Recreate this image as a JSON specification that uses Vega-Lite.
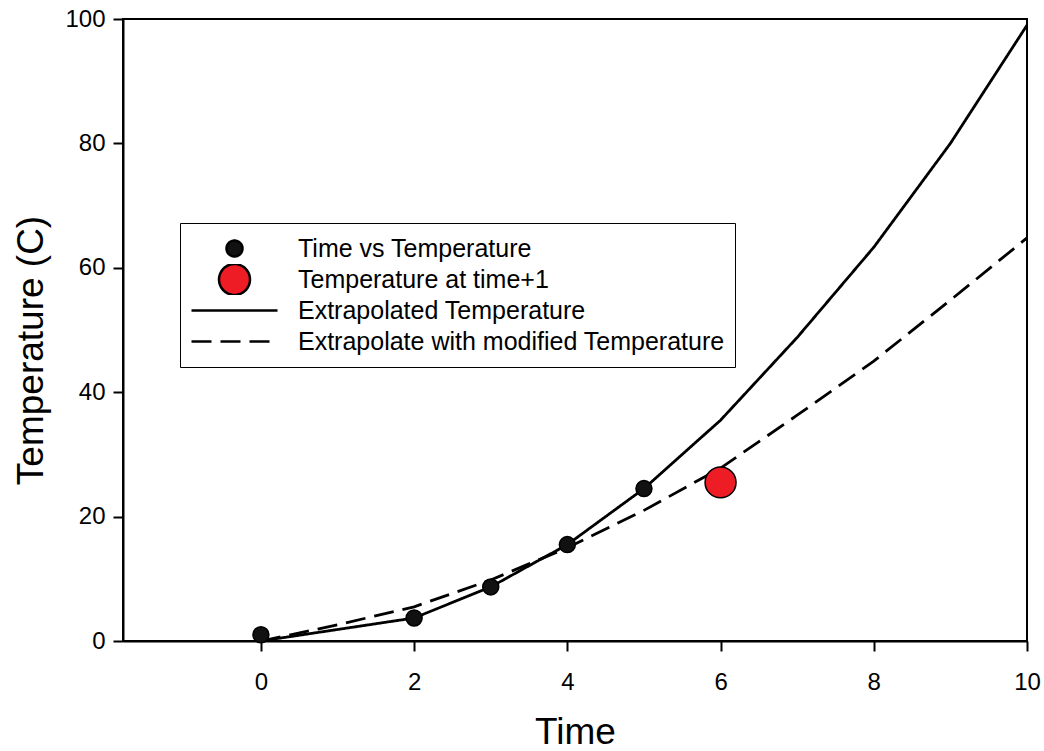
{
  "$schema": "https://vega.github.io/schema/vega-lite/v6.json",
  "width": 904,
  "height": 622,
  "autosize": {"type": "none"},
  "padding": {"left": 123, "top": 19, "right": 17, "bottom": 110},
  "background": "white",
  "config": {
    "font": "Liberation Sans",
    "view": {"stroke": "black", "strokeWidth": 2},
    "axis": {
      "domainColor": "black", "domainWidth": 2,
      "tickColor": "black", "tickWidth": 2, "tickSize": 10,
      "labelFont": "Liberation Sans", "labelFontSize": 24, "labelColor": "black", "labelFlush": false,
      "titleFont": "Liberation Sans", "titleFontSize": 37, "titleFontWeight": "normal", "titleColor": "black",
      "grid": false
    },
    "legend": {
      "orient": "none", "legendX": 57, "legendY": 204,
      "padding": 10, "strokeColor": "black", "fillColor": "white",
      "labelFont": "Liberation Sans", "labelFontSize": 25, "labelColor": "black",
      "labelOffset": 19, "labelLimit": 1000,
      "clipHeight": 31, "rowPadding": 0,
      "symbolSize": 7396, "symbolStrokeWidth": 2.5, "symbolStrokeColor": "black", "symbolOpacity": 1
    }
  },
  "data": {
    "values": [
      {"series": "Time vs Temperature", "time": 0, "temp": 1.0},
      {"series": "Time vs Temperature", "time": 2, "temp": 3.7},
      {"series": "Time vs Temperature", "time": 3, "temp": 8.7},
      {"series": "Time vs Temperature", "time": 4, "temp": 15.5},
      {"series": "Time vs Temperature", "time": 5, "temp": 24.5},
      {"series": "Temperature at time+1", "time": 6, "temp": 25.5},
      {"series": "Extrapolated Temperature", "time": 0, "temp": 0},
      {"series": "Extrapolated Temperature", "time": 2, "temp": 3.7},
      {"series": "Extrapolated Temperature", "time": 3, "temp": 8.7},
      {"series": "Extrapolated Temperature", "time": 4, "temp": 15.5},
      {"series": "Extrapolated Temperature", "time": 5, "temp": 24.5},
      {"series": "Extrapolated Temperature", "time": 6, "temp": 35.5},
      {"series": "Extrapolated Temperature", "time": 7, "temp": 48.8},
      {"series": "Extrapolated Temperature", "time": 8, "temp": 63.3},
      {"series": "Extrapolated Temperature", "time": 9, "temp": 80.0},
      {"series": "Extrapolated Temperature", "time": 10, "temp": 99.0},
      {"series": "Extrapolate with modified Temperature", "time": 0, "temp": 0},
      {"series": "Extrapolate with modified Temperature", "time": 1, "temp": 2.6},
      {"series": "Extrapolate with modified Temperature", "time": 2, "temp": 5.5},
      {"series": "Extrapolate with modified Temperature", "time": 3, "temp": 9.8},
      {"series": "Extrapolate with modified Temperature", "time": 4, "temp": 15.0},
      {"series": "Extrapolate with modified Temperature", "time": 5, "temp": 21.0},
      {"series": "Extrapolate with modified Temperature", "time": 6, "temp": 27.8},
      {"series": "Extrapolate with modified Temperature", "time": 7, "temp": 36.3},
      {"series": "Extrapolate with modified Temperature", "time": 8, "temp": 45.0},
      {"series": "Extrapolate with modified Temperature", "time": 9, "temp": 54.8},
      {"series": "Extrapolate with modified Temperature", "time": 10, "temp": 64.8}
    ]
  },
  "layer": [
    {
      "transform": [{"filter": {"field": "series", "oneOf": ["Extrapolated Temperature", "Extrapolate with modified Temperature"]}}],
      "mark": {"type": "line", "strokeWidth": 2.8},
      "encoding": {
        "x": {
          "field": "time", "type": "quantitative",
          "scale": {"domain": [-1.8, 10], "nice": false, "zero": false},
          "axis": {"values": [0, 2, 4, 6, 8, 10], "format": "d", "title": "Time", "labelPadding": 19, "titleBaseline": "alphabetic", "titleY": 102}
        },
        "y": {
          "field": "temp", "type": "quantitative",
          "scale": {"domain": [0, 100], "nice": false},
          "axis": {"values": [0, 20, 40, 60, 80, 100], "format": "d", "title": "Temperature (C)", "labelPadding": 8, "titleBaseline": "alphabetic", "titleX": -81, "titleY": 331}
        },
        "stroke": {
          "field": "series", "type": "nominal",
          "scale": {"domain": ["Time vs Temperature", "Temperature at time+1", "Extrapolated Temperature", "Extrapolate with modified Temperature"], "range": ["black", "black", "black", "black"]},
          "legend": {"title": null}
        },
        "strokeDash": {
          "field": "series", "type": "nominal",
          "scale": {"domain": ["Time vs Temperature", "Temperature at time+1", "Extrapolated Temperature", "Extrapolate with modified Temperature"], "range": [[1, 0], [1, 0], [1, 0], [20, 9]]},
          "legend": {"title": null}
        }
      }
    },
    {
      "transform": [{"filter": {"field": "series", "oneOf": ["Time vs Temperature", "Temperature at time+1"]}}],
      "mark": {"type": "point", "filled": true, "size": 7396, "opacity": 1, "strokeWidth": 1.5},
      "encoding": {
        "x": {"field": "time", "type": "quantitative"},
        "y": {"field": "temp", "type": "quantitative"},
        "fill": {
          "field": "series", "type": "nominal",
          "scale": {"domain": ["Time vs Temperature", "Temperature at time+1", "Extrapolated Temperature", "Extrapolate with modified Temperature"], "range": ["#111111", "#ee1c25", "black", "black"]},
          "legend": {"title": null, "encode": {"legend": {"strokeWidth": {"value": 2}}}}
        },
        "stroke": {"field": "series", "type": "nominal", "legend": {"title": null}},
        "shape": {
          "field": "series", "type": "nominal",
          "scale": {"domain": ["Time vs Temperature", "Temperature at time+1", "Extrapolated Temperature", "Extrapolate with modified Temperature"], "range": ["M-0.186,0A0.186,0.186,0,1,1,0.186,0A0.186,0.186,0,1,1,-0.186,0Z", "M-0.36,0A0.36,0.36,0,1,1,0.36,0A0.36,0.36,0,1,1,-0.36,0Z", "M-1,0L1,0", "M-1,0L1,0"]},
          "legend": {"title": null}
        }
      }
    }
  ]
}
